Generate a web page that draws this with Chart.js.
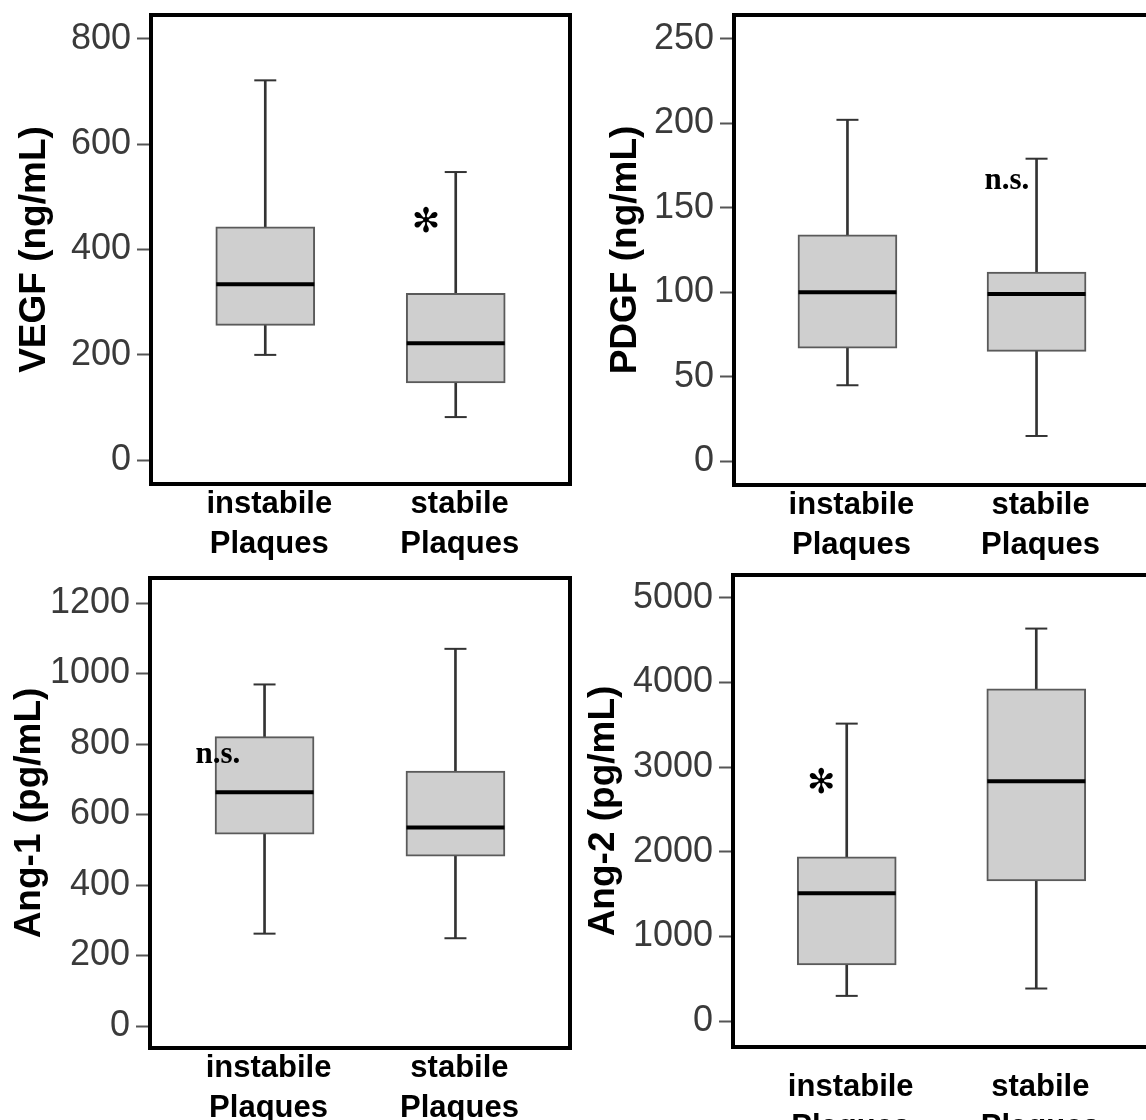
<!DOCTYPE html>
<html>
<head>
<meta charset="utf-8">
<script src="https://cdn.jsdelivr.net/npm/chart.js@4.4.0/dist/chart.umd.min.js"></script>
<style>
html, body { margin: 0; padding: 0; background: #fff; overflow: hidden; width: 1146px; height: 1120px; }
canvas { position: absolute; }
</style>
</head>
<body>
<canvas id="vegf" width="573" height="560" style="left:0;top:0"></canvas>
<canvas id="pdgf" width="590" height="560" style="left:573px;top:0"></canvas>
<canvas id="ang1" width="573" height="560" style="left:0;top:560px"></canvas>
<canvas id="ang2" width="590" height="560" style="left:573px;top:560px"></canvas>
<script>
// categories (x = 1, 2)
var groupLabels = [['instabile', 'Plaques'], ['stabile', 'Plaques']];

// box values: [min, q1, median, q3, max]
var vegfInstabile = [200, 256, 334, 443, 721];
var vegfStabile = [82, 147, 222, 317, 547];
var pdgfInstabile = [45, 67, 100, 134, 202];
var pdgfStabile = [15, 65, 99, 112, 179];
var ang1Instabile = [262, 544, 663, 821, 969];
var ang1Stabile = [249, 482, 563, 723, 1070];
var ang2Instabile = [298, 664, 1510, 1941, 3515];
var ang2Stabile = [385, 1657, 2834, 3925, 4638];

// y tick labels
var vegfTicks = [0, 200, 400, 600, 800];
var pdgfTicks = [0, 50, 100, 150, 200, 250];
var ang1Ticks = [0, 200, 400, 600, 800, 1000, 1200];
var ang2Ticks = [0, 1000, 2000, 3000, 4000, 5000];

// significance marks
var vegfMark = { text: '\u273B', x: 1.844, y: 450 };
var pdgfMark = { text: 'n.s.', x: 1.725, y: 161 };
var ang1Mark = { text: 'n.s.', x: 0.638, y: 746 };
var ang2Mark = { text: '\u273B', x: 0.866, y: 2800 };

var framePlugin = {
    id: 'frame',
    afterDraw: function (chart) {
        var a = chart.chartArea, ctx = chart.ctx;
        ctx.save();
        ctx.strokeStyle = '#000';
        ctx.lineWidth = 4;
        ctx.strokeRect(a.left, a.top, a.right - a.left, a.bottom - a.top);
        ctx.restore();
    }
};

var markPlugin = {
    id: 'mark',
    afterDatasetsDraw: function (chart) {
        var m = chart.options.plugins.mark;
        if (!m) return;
        var ctx = chart.ctx;
        var px = chart.scales.x.getPixelForValue(m.x);
        var py = chart.scales.y.getPixelForValue(m.y);
        ctx.save();
        ctx.fillStyle = '#000';
        if (m.text === 'n.s.') {
            ctx.font = 'bold 31px "Liberation Serif", "Times New Roman", serif';
            ctx.textAlign = 'left';
            ctx.textBaseline = 'alphabetic';
        } else {
            ctx.font = '34px "DejaVu Sans", sans-serif';
            ctx.textAlign = 'center';
            ctx.textBaseline = 'middle';
        }
        ctx.fillText(m.text, px, py);
        ctx.restore();
    }
};

function makeChart(id, title, inst, stab, ticks, yMin, yMax, area, titlePad, labelPad, mark) {
    var canvas = document.getElementById(id);
    var W = canvas.width, H = canvas.height;
    var groups = [inst, stab];

    var whiskers = groups.map(function (g, i) { return { x: i + 1, y: [g[0], g[4]] }; });
    var boxes = groups.map(function (g, i) { return { x: i + 1, y: [g[1], g[3]] }; });
    var caps = [];
    groups.forEach(function (g, i) {
        caps.push({ x: i + 1, y: g[0] });
        caps.push({ x: i + 1, y: g[4] });
    });
    var medians = groups.map(function (g, i) { return { x: i + 1, y: g[2] }; });

    return new Chart(canvas, {
        type: 'bar',
        data: {
            datasets: [
                { type: 'scatter', data: medians, pointStyle: 'line', pointRadius: 49, pointBorderWidth: 4,
                  pointBorderColor: '#000', order: 1 },
                { type: 'scatter', data: caps, pointStyle: 'line', pointRadius: 11, pointBorderWidth: 2,
                  pointBorderColor: '#333', order: 1 },
                { data: boxes, grouped: false, barThickness: 99, backgroundColor: '#cfcfcf',
                  borderColor: '#5a5a5a', borderWidth: 2, borderSkipped: false, order: 2 },
                { data: whiskers, grouped: false, barThickness: 2, backgroundColor: '#333',
                  borderWidth: 0, order: 3 }
            ]
        },
        options: {
            responsive: false,
            animation: false,
            events: [],
            layout: { autoPadding: false, padding: { left: 0, top: area.top, right: W - area.right, bottom: 0 } },
            plugins: { legend: { display: false }, tooltip: { enabled: false }, mark: mark },
            scales: {
                x: {
                    type: 'linear', min: 0.4, max: 2.6, offset: false,
                    grid: { display: false, drawTicks: false }, border: { display: false },
                    afterBuildTicks: function (s) { s.ticks = [{ value: 1 }, { value: 2 }]; },
                    afterFit: function (s) { s.height = H - area.bottom; },
                    ticks: {
                        autoSkip: false, maxRotation: 0, padding: labelPad, labelOffset: 4, color: '#000',
                        font: { family: '"Liberation Sans", Arial, sans-serif', size: 31, weight: 'bold', lineHeight: 1.29 },
                        callback: function (v) { return groupLabels[v - 1]; }
                    }
                },
                y: {
                    min: yMin, max: yMax,
                    grid: { drawOnChartArea: false, drawTicks: true, tickLength: 14, tickColor: '#555', tickWidth: 2 },
                    border: { display: false },
                    afterBuildTicks: function (s) { s.ticks = ticks.map(function (v) { return { value: v }; }); },
                    afterFit: function (s) { s.width = area.left; },
                    ticks: {
                        padding: 6, color: '#3a3a3a',
                        font: { family: '"Liberation Sans", Arial, sans-serif', size: 36, lineHeight: 0.5 },
                        callback: function (v) { return String(v); }
                    },
                    title: {
                        display: true, text: title, color: '#000', padding: { top: titlePad, bottom: 0 },
                        font: { family: '"Liberation Sans", Arial, sans-serif', size: 37, weight: 'bold' }
                    }
                }
            }
        },
        plugins: [framePlugin, markPlugin]
    });
}

makeChart('vegf', 'VEGF (ng/mL)', vegfInstabile, vegfStabile, vegfTicks, -45, 845,
    { left: 151, right: 570, top: 13, bottom: 484 }, 13, 0, vegfMark);
makeChart('pdgf', 'PDGF (ng/mL)', pdgfInstabile, pdgfStabile, pdgfTicks, -14, 264,
    { left: 161, right: 577, top: 13, bottom: 485 }, 31, 0, pdgfMark);
makeChart('ang1', 'Ang-1 (pg/mL)', ang1Instabile, ang1Stabile, ang1Ticks, -62.4, 1271,
    { left: 150, right: 570, top: 18, bottom: 488 }, 8, 0, ang1Mark);
makeChart('ang2', 'Ang-2 (pg/mL)', ang2Instabile, ang2Stabile, ang2Ticks, -306, 5271,
    { left: 160, right: 577, top: 15, bottom: 487 }, 9, 20, ang2Mark);
</script>
</body>
</html>
